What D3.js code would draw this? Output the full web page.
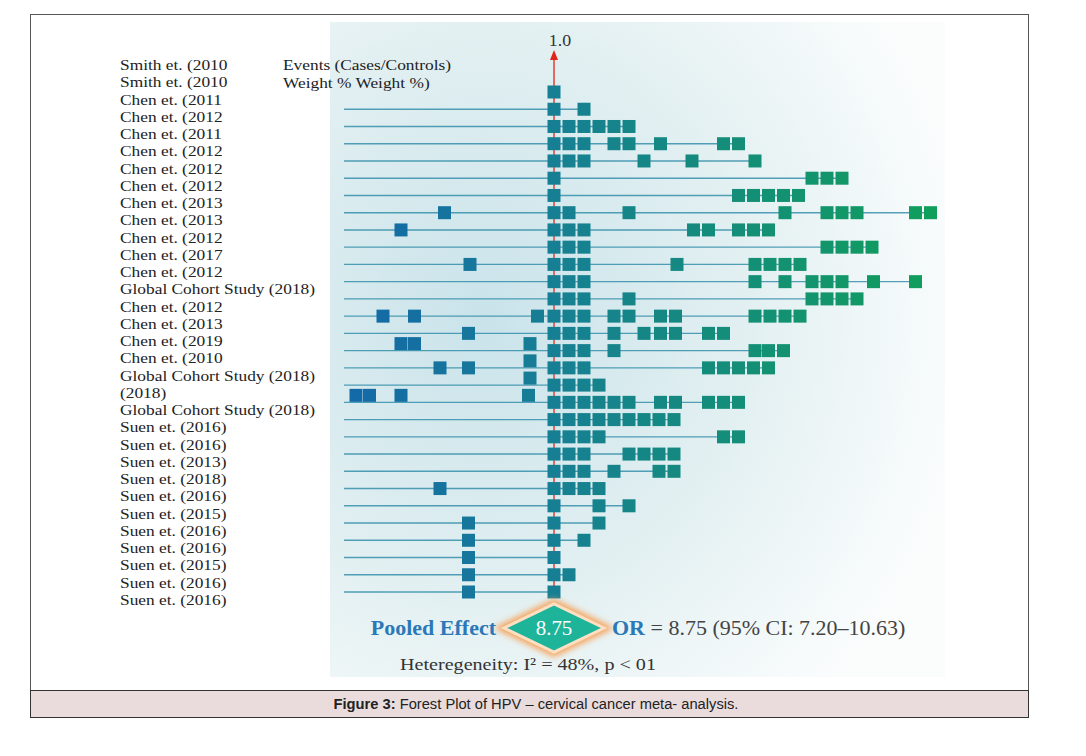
<!DOCTYPE html>
<html><head><meta charset="utf-8">
<script src="https://cdn.jsdelivr.net/npm/d3@7"></script>
<style>body{margin:0;background:#fff}svg{display:block}</style>
</head><body>
<svg id="chart" width="1086" height="756"></svg>
<script>
const studyLabels = ['Smith et. (2010', 'Smith et. (2010', 'Chen et. (2011', 'Chen et. (2012', 'Chen et. (2011',
  'Chen et. (2012', 'Chen et. (2012', 'Chen et. (2012', 'Chen et. (2013', 'Chen et. (2013', 'Chen et. (2012',
  'Chen et. (2017', 'Chen et. (2012', 'Global Cohort Study (2018)', 'Chen et. (2012', 'Chen et. (2013',
  'Chen et. (2019', 'Chen et. (2010', 'Global Cohort Study (2018)', '(2018)', 'Global Cohort Study (2018)',
  'Suen et. (2016)', 'Suen et. (2016)', 'Suen et. (2013)', 'Suen et. (2018)', 'Suen et. (2016)',
  'Suen et. (2015)', 'Suen et. (2016)', 'Suen et. (2016)', 'Suen et. (2015)', 'Suen et. (2016)', 'Suen et. (2016)'];

// marker positions per row, in units of one marker step from the null line
const rowMarks = [
  [0],
  [0, 2],
  [0, 1, 2, 3, 4, 5],
  [0, 1, 2, 4, 5, 7.1, 11.3, 12.3],
  [0, 1, 2, 6, 9.2, 13.4],
  [0, 17.2, 18.2, 19.2],
  [0, 12.3, 13.3, 14.3, 15.3, 16.3],
  [-7.3, 0, 1, 5, 15.4, 18.2, 19.2, 20.2, 24.1, 25.1],
  [-10.2, 0, 1, 2, 9.3, 10.3, 12.3, 13.3, 14.3],
  [0, 1, 2, 18.2, 19.2, 20.2, 21.2],
  [-5.6, 0, 1, 2, 8.2, 13.4, 14.4, 15.4, 16.4],
  [0, 1, 2, 13.4, 15.4, 17.2, 18.2, 19.2, 21.3, 24.1],
  [0, 1, 2, 5, 17.2, 18.2, 19.2, 20.2],
  [-11.4, -9.3, -1.1, 0, 1, 2, 4, 5, 7.1, 8.1, 13.4, 14.4, 15.4, 16.4],
  [-5.7, 0, 1, 2, 4, 6, 7.1, 8.1, 10.3, 11.3],
  [0, 1, 2, 4, 13.4, 14.3, 15.3],
  [-7.6, -5.7, -1.6, 0, 1, 2, 10.3, 11.3, 12.3, 13.3, 14.3],
  [0, 1, 2, 3],
  [0, 1, 2, 3, 4, 5, 7.1, 8.1, 10.3, 11.3, 12.3],
  [0, 1, 2, 3, 4, 5, 6, 7, 8],
  [0, 1, 2, 3, 11.3, 12.3],
  [0, 1, 2, 5, 6, 7, 8],
  [0, 1, 2, 4, 7, 8],
  [-7.6, 0, 1, 2, 3],
  [0, 3, 5],
  [-5.7, 0, 3],
  [-5.7, 0, 2],
  [-5.7, 0],
  [-5.7, 0, 1],
  [-5.7, 0]
];
// markers drawn slightly above their row (overlapping rows)
const raisedMarks = { 15: [-10.2, -9.3, -1.6], 16: [-1.6], 17: [-1.6], 18: [-13.2, -12.3, -10.2, -1.7] };
const lineStart = -14;
const pooledOR = '8.75';
const pooledText = ' = 8.75 (95% CI: 7.20\u201310.63)';
const hetText = 'Heteregeneity: I\u00b2 = 48%, p < 01';

const svg = d3.select('#chart');
const x = d3.scaleLinear().domain([0, 25]).range([554, 929]);
const y = d3.scaleLinear().domain([0, 29]).range([92, 592]);
const labelY = d3.scaleLinear().domain([0, 31]).range([70, 605]);
const colour = d3.scaleLinear().domain([-14, 0, 22]).range(['#1468a8', '#177f93', '#119a62']);
const sq = 13;
const serif = 'Liberation Serif';

// stretched text helper (the source image is horizontally stretched)
function stext(px, py, size, sx, anchor) {
  return svg.append('g').attr('transform', `translate(${px},${py}) scale(${sx},1)`)
    .append('text').attr('text-anchor', anchor || 'start').attr('font-family', serif).attr('font-size', size);
}

// outer frame and panel
svg.append('rect').attr('x', 30.5).attr('y', 14.5).attr('width', 998).attr('height', 703)
  .attr('fill', 'none').attr('stroke', '#555');
const defs = svg.append('defs');
const grad = defs.append('radialGradient').attr('id', 'bg').attr('cx', '25%').attr('cy', '45%').attr('r', '80%');
grad.append('stop').attr('offset', '0%').attr('stop-color', '#c9e3ea');
grad.append('stop').attr('offset', '55%').attr('stop-color', '#e3f0f2');
grad.append('stop').attr('offset', '100%').attr('stop-color', '#fbfdfd');
svg.append('rect').attr('x', 330).attr('y', 22).attr('width', 615).attr('height', 655).attr('fill', 'url(#bg)');
const glow = defs.append('filter').attr('id', 'glow').attr('x', '-30%').attr('y', '-30%').attr('width', '160%').attr('height', '160%');
glow.append('feGaussianBlur').attr('stdDeviation', 3);

// null line
svg.append('line').attr('x1', x(0)).attr('x2', x(0)).attr('y1', 58).attr('y2', y(29) + 6)
  .attr('stroke', '#e46a60').attr('stroke-width', 2);
svg.append('path').attr('d', `M${x(0)},50 l-4,10 l8,0 z`).attr('fill', '#e0261c');
stext(x(0) + 6, 46, 17, 1.05, 'middle').attr('fill', '#333').text('1.0');

// row lines
svg.append('g').selectAll('line').data(rowMarks).join('line')
  .filter((d, i) => i > 0)
  .attr('x1', x(lineStart)).attr('x2', d => x(d3.max(d)))
  .attr('y1', (d, i) => y(i + 1)).attr('y2', (d, i) => y(i + 1))
  .attr('stroke', '#2a8aa6').attr('stroke-opacity', 0.8).attr('stroke-width', 1.4);

// markers
const marks = rowMarks.flatMap((r, i) => r.filter(v => !(raisedMarks[i] || []).includes(v)).map(v => ({ v, yy: y(i) })))
  .concat(Object.entries(raisedMarks).flatMap(([i, r]) => r.map(v => ({ v, yy: y(+i) - 7 }))));
svg.append('g').selectAll('rect').data(marks).join('rect')
  .attr('x', d => x(d.v) - sq / 2).attr('y', d => d.yy - sq / 2)
  .attr('width', sq).attr('height', sq).attr('fill', d => colour(d.v));

// labels
svg.append('g').attr('transform', 'translate(120,0) scale(1.12,1)')
  .selectAll('text').data(studyLabels).join('text')
  .attr('x', 0).attr('y', (d, i) => labelY(i))
  .attr('font-family', serif).attr('font-size', 15.5).attr('fill', '#222').text(d => d);
stext(283, 70, 15.5, 1.12).attr('fill', '#222').text('Events (Cases/Controls)');
stext(283, 88, 15.5, 1.12).attr('fill', '#222').text('Weight % Weight %)');

// pooled diamond
const dy = 628;
const dpath = `M${x(0) - 50},${dy} L${x(0)},${dy - 24} L${x(0) + 50},${dy} L${x(0)},${dy + 24} Z`;
svg.append('path').attr('d', dpath).attr('fill', 'none').attr('stroke', '#f6a35a').attr('stroke-width', 9)
  .attr('filter', 'url(#glow)');
svg.append('path').attr('d', dpath).attr('fill', '#1db49a').attr('stroke', '#fde0c4').attr('stroke-width', 3);
stext(x(0), dy + 7, 20, 1.05, 'middle').attr('fill', '#fff').text(pooledOR);
stext(496, dy + 7, 20, 1.1, 'end').attr('font-weight', 'bold').attr('fill', '#2b78b8').text('Pooled Effect');
const orT = stext(612, dy + 7, 20, 1.1);
orT.append('tspan').attr('font-weight', 'bold').attr('fill', '#2b78b8').text('OR');
orT.append('tspan').attr('fill', '#444').text(pooledText);
stext(400, 670, 17.5, 1.15).attr('fill', '#333').text(hetText);

// caption
svg.append('rect').attr('x', 30.5).attr('y', 690.5).attr('width', 998).attr('height', 27)
  .attr('fill', '#eadcdc').attr('stroke', '#333');
const cap = svg.append('text').attr('x', 536).attr('y', 709).attr('text-anchor', 'middle')
  .attr('font-family', 'Liberation Sans').attr('font-size', 14.7).attr('fill', '#222');
cap.append('tspan').attr('font-weight', 'bold').text('Figure 3:');
cap.append('tspan').text(' Forest Plot of HPV \u2013 cervical cancer meta- analysis.');
</script>
</body></html>
